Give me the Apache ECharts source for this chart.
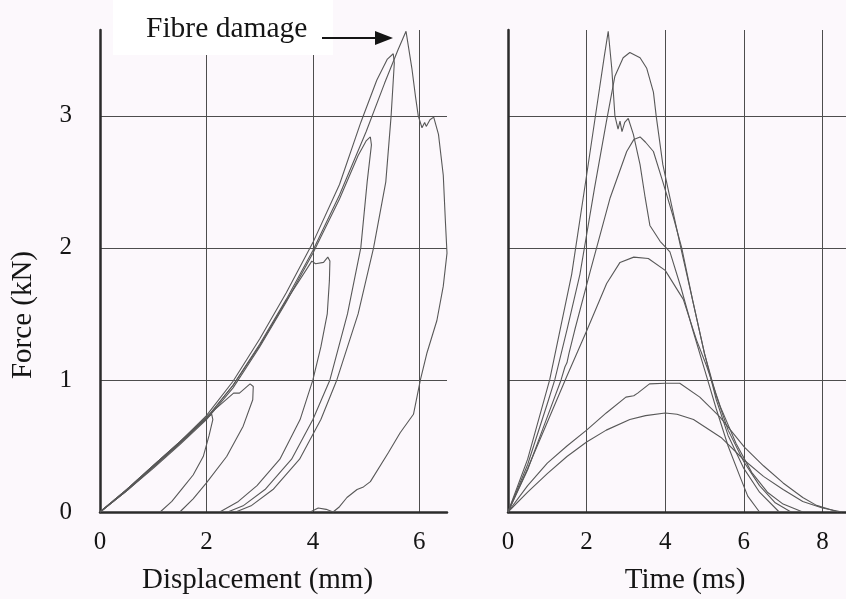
<!DOCTYPE html>
<html>
<head>
<meta charset="utf-8">
<script src="https://cdn.jsdelivr.net/npm/echarts@6/dist/echarts.min.js"></script>
<style>
  html, body { margin: 0; padding: 0; background: #fcf8fc; }
  #chart { width: 846px; height: 599px; }
</style>
</head>
<body>
<div id="chart"></div>
<script>
// Force vs displacement loops, [mm, kN]
const dispA = [[0,0],[0.5,0.16],[1,0.34],[1.5,0.52],[2,0.71],[2.5,0.96],[3,1.27],[3.5,1.61],[4,1.98],[4.5,2.4],[5,2.88],[5.35,3.25],[5.6,3.5],[5.75,3.64],
  [5.86,3.36],[5.93,3.14],[5.98,3.0],[6.05,2.91],[6.1,2.95],[6.13,2.92],[6.2,2.97],[6.27,2.99],[6.36,2.86],[6.45,2.55],[6.49,2.2],[6.52,1.96],
  [6.45,1.71],[6.33,1.45],[6.14,1.2],[6.02,1.0],[5.89,0.74],[5.64,0.6],[5.42,0.45],[5.08,0.23],[4.95,0.19],[4.83,0.17],[4.64,0.11],[4.5,0.04],
  [4.38,0],[4.25,0.02],[4.1,0.03],[3.95,0]];
const dispB = [[0,0],[0.5,0.17],[1,0.35],[1.5,0.53],[2,0.73],[2.5,0.99],[3,1.31],[3.5,1.66],[4,2.04],[4.5,2.48],[4.9,2.95],[5.2,3.27],[5.4,3.43],[5.51,3.47],
  [5.53,3.4],[5.47,3.0],[5.37,2.5],[5.14,2.0],[4.85,1.5],[4.45,1.0],[4.15,0.7],[3.75,0.4],[3.25,0.17],[2.85,0.05],[2.55,0]];
const dispC = [[0,0],[0.5,0.16],[1,0.33],[1.5,0.51],[2,0.7],[2.5,0.94],[3,1.25],[3.5,1.59],[4,1.96],[4.5,2.37],[4.85,2.7],[5.0,2.81],[5.08,2.84],
  [5.1,2.78],[5.02,2.5],[4.9,2.0],[4.65,1.5],[4.32,1.0],[4.0,0.7],[3.6,0.4],[3.1,0.17],[2.7,0.05],[2.4,0]];
const dispD = [[0,0],[0.5,0.16],[1,0.34],[1.5,0.52],[2,0.71],[2.5,0.96],[3,1.26],[3.5,1.6],[3.98,1.9],[4.05,1.88],[4.2,1.89],[4.28,1.93],[4.32,1.9],
  [4.31,1.75],[4.27,1.5],[4.15,1.25],[4.0,1.0],[3.76,0.7],[3.38,0.4],[2.95,0.2],[2.6,0.08],[2.25,0]];
const dispE = [[0,0],[0.5,0.17],[1,0.35],[1.5,0.53],[2,0.72],[2.51,0.9],[2.62,0.9],[2.82,0.97],[2.88,0.95],
  [2.87,0.85],[2.69,0.65],[2.38,0.42],[2.0,0.22],[1.75,0.1],[1.5,0]];
const dispF = [[0,0],[0.5,0.17],[1,0.35],[1.5,0.53],[2.0,0.71],[2.1,0.74],[2.12,0.7],
  [2.05,0.58],[1.94,0.42],[1.75,0.28],[1.57,0.19],[1.35,0.08],[1.13,0]];

// Force vs time, [ms, kN]
const timeA = [[0,0],[0.5,0.4],[1.06,1.0],[1.62,1.8],[2.0,2.55],[2.3,3.15],[2.45,3.45],[2.55,3.64],[2.64,3.36],[2.72,3.0],[2.8,2.9],[2.85,2.96],
  [2.9,2.88],[2.97,2.95],[3.06,2.98],[3.19,2.86],[3.36,2.63],[3.49,2.38],[3.61,2.17],[3.87,2.05],[4.12,1.97],[4.4,1.7],[4.7,1.38],[5.0,1.08],
  [5.3,0.78],[5.6,0.5],[5.9,0.27],[6.1,0.12],[6.4,0]];
const timeB = [[0,0],[0.5,0.36],[1.0,0.82],[1.19,1.0],[1.5,1.38],[1.83,1.8],[2.2,2.45],[2.5,2.95],[2.72,3.3],[2.93,3.44],[3.1,3.48],[3.36,3.44],
  [3.53,3.36],[3.7,3.18],[3.77,3.0],[3.94,2.63],[4.12,2.38],[4.42,1.97],[4.7,1.6],[5.0,1.2],[5.3,0.85],[5.6,0.58],[6.0,0.33],[6.4,0.15],[6.9,0]];
const timeC = [[0,0],[0.5,0.32],[1.0,0.72],[1.35,1.0],[1.45,1.1],[1.5,1.13],[1.55,1.2],[1.7,1.38],[2.09,1.82],[2.6,2.38],[3.02,2.73],[3.2,2.82],
  [3.36,2.84],[3.5,2.8],[3.7,2.73],[3.94,2.5],[4.21,2.23],[4.42,2.0],[4.7,1.6],[5.0,1.2],[5.3,0.88],[5.6,0.62],[6.0,0.38],[6.4,0.2],[6.8,0.07],[7.2,0]];
const timeD = [[0,0],[0.5,0.33],[1.0,0.68],[1.5,1.03],[2.0,1.37],[2.51,1.73],[2.85,1.89],[3.2,1.93],[3.57,1.92],[4.0,1.83],[4.46,1.61],[4.8,1.3],
  [5.06,1.1],[5.4,0.8],[5.8,0.52],[6.2,0.3],[6.6,0.15],[7.0,0.06],[7.5,0]];
const timeE = [[0,0],[0.5,0.2],[1.0,0.37],[1.5,0.5],[2.0,0.62],[2.5,0.75],[3.0,0.87],[3.2,0.88],[3.3,0.9],[3.6,0.97],[4.0,0.975],[4.37,0.975],
  [4.88,0.87],[5.39,0.72],[6.02,0.49],[6.5,0.35],[7.0,0.22],[7.5,0.11],[7.85,0.05],[8.4,0]];
const timeF = [[0,0],[0.5,0.15],[1.0,0.29],[1.5,0.42],[2.0,0.53],[2.5,0.62],[3.1,0.7],[3.5,0.73],[4.0,0.75],[4.3,0.74],[4.72,0.7],[5.44,0.56],
  [6.02,0.39],[6.5,0.27],[7.0,0.17],[7.5,0.08],[8.0,0.03],[8.5,0]];

const dispCurves = [dispA, dispB, dispC, dispD, dispE, dispF];
const timeCurves = [timeA, timeB, timeC, timeD, timeE, timeF];

const dispMax = 6.52;
const timeMax = 8.6;
const forceMax = 3.65;
const tickStep = { disp: 2, time: 2, force: 1 };

const serif = '"Liberation Serif", "DejaVu Serif", serif';
const ink = '#151515';

function xAxisFor(gridIndex, max, interval, name, namePad) {
    return {
        type: 'value', gridIndex, min: 0, max, interval,
        name, nameLocation: 'middle', nameGap: 54, nameMoveOverlap: false,
        nameTextStyle: { fontFamily: serif, fontSize: 29, color: ink, padding: namePad },
        axisLine: { onZero: false, lineStyle: { color: '#2b2b2b', width: 2.5 } },
        axisTick: { show: false },
        axisLabel: { fontFamily: serif, fontSize: 25, color: ink, margin: 18, showMaxLabel: false },
        splitLine: { show: true, showMaxLine: false, showMinLine: false, lineStyle: { color: '#4d4d4d', width: 1 } }
    };
}

function yAxisFor(gridIndex, withLabels) {
    return {
        type: 'value', gridIndex, min: 0, max: forceMax, interval: tickStep.force,
        name: withLabels ? 'Force (kN)' : '', nameLocation: 'middle', nameGap: 62, nameMoveOverlap: false,
        // padding at the text end pushes the rotated label down
        nameTextStyle: { fontFamily: serif, fontSize: 29, color: ink, padding: [0, 88, 0, 0] },
        axisLine: { show: true, onZero: false, lineStyle: { color: '#2b2b2b', width: 2.5 } },
        axisTick: { show: false },
        axisLabel: { show: withLabels, fontFamily: serif, fontSize: 25, color: ink, margin: 28, showMaxLabel: false },
        splitLine: { show: true, showMaxLine: false, showMinLine: false, lineStyle: { color: '#4d4d4d', width: 1 } }
    };
}

function curveSeries(data, idx) {
    return {
        type: 'line', xAxisIndex: idx, yAxisIndex: idx, data,
        showSymbol: false, symbol: 'none', silent: true, z: 3,
        lineStyle: { color: '#585858', width: 1.1 }
    };
}

const chart = echarts.init(document.getElementById('chart'));
chart.setOption({
    animation: false,
    backgroundColor: '#fcf8fc',
    grid: [
        { left: 100, top: 30, width: 347, height: 482, outerBoundsMode: 'none' },
        { left: 508, top: 30, width: 338, height: 482, outerBoundsMode: 'none' }
    ],
    xAxis: [
        xAxisFor(0, dispMax, tickStep.disp, 'Displacement (mm)', [0, 32, 0, 0]),
        xAxisFor(1, timeMax, tickStep.time, 'Time (ms)', [0, 0, 0, 16])
    ],
    yAxis: [yAxisFor(0, true), yAxisFor(1, false)],
    series: [
        ...dispCurves.map(c => curveSeries(c, 0)),
        ...timeCurves.map(c => curveSeries(c, 1))
    ],
    graphic: [
        { type: 'rect', z: 10, shape: { x: 113, y: 0, width: 220, height: 55 }, style: { fill: '#ffffff' } },
        { type: 'text', z: 11, x: 146, y: 29, style: { text: 'Fibre damage', font: '29.5px ' + serif, fill: ink, verticalAlign: 'middle' } },
        { type: 'line', z: 11, shape: { x1: 322, y1: 38, x2: 380, y2: 38 }, style: { stroke: ink, lineWidth: 2 } },
        { type: 'polygon', z: 11, shape: { points: [[375, 31], [393, 38], [375, 45]] }, style: { fill: ink } }
    ]
});

window.addEventListener('resize', () => chart.resize());
</script>
</body>
</html>
